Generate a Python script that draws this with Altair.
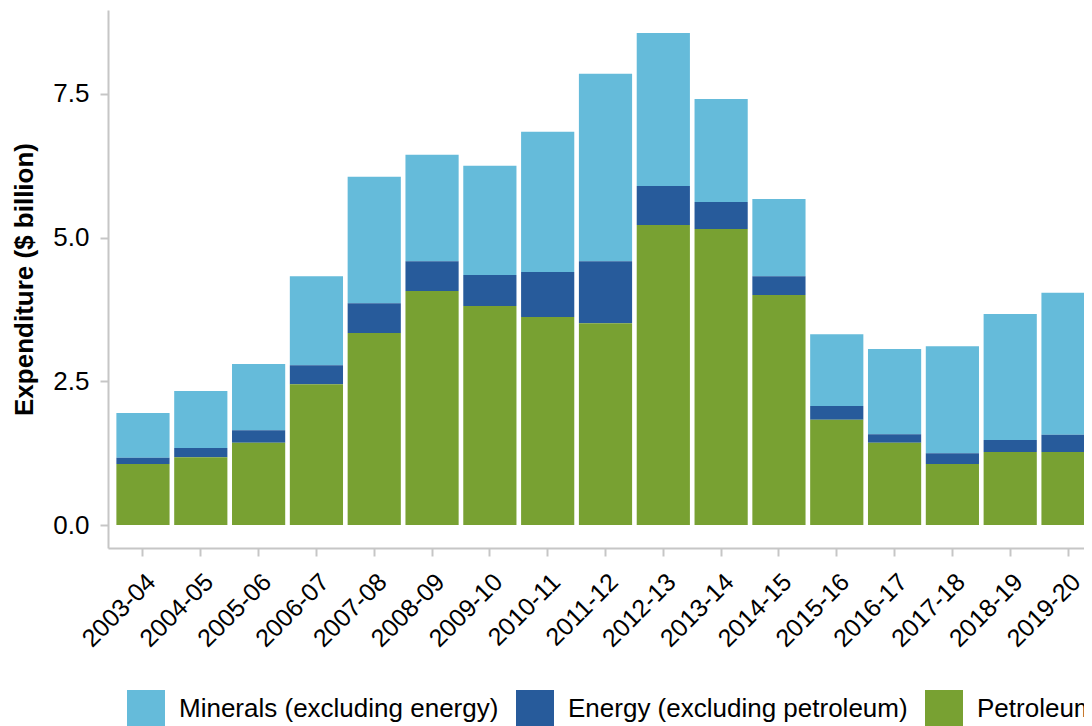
import altair as alt
import pandas as pd

years = ["2003-04", "2004-05", "2005-06", "2006-07", "2007-08", "2008-09",
         "2009-10", "2010-11", "2011-12", "2012-13", "2013-14", "2014-15",
         "2015-16", "2016-17", "2017-18", "2018-19", "2019-20"]
petroleum = [1.06, 1.18, 1.43, 2.45, 3.34, 4.07, 3.81, 3.62, 3.51, 5.22, 5.15,
             4.00, 1.83, 1.43, 1.06, 1.27, 1.27]
energy = [0.11, 0.16, 0.22, 0.33, 0.52, 0.52, 0.54, 0.78, 1.08, 0.68, 0.47,
          0.33, 0.24, 0.15, 0.19, 0.21, 0.30]
minerals = [0.78, 0.99, 1.15, 1.55, 2.20, 1.85, 1.90, 2.44, 3.26, 2.66, 1.79,
            1.34, 1.25, 1.48, 1.86, 2.19, 2.47]

series = ["Minerals (excluding energy)", "Energy (excluding petroleum)", "Petroleum"]
colors = ["#65bbda", "#275b9b", "#78a132"]
stack_order = [2, 1, 0]

rows = []
for name, vals, o in zip(series, [minerals, energy, petroleum], stack_order):
    for yr, v in zip(years, vals):
        rows.append({"year": yr, "type": name, "value": v, "ord": o})
df = pd.DataFrame(rows)

FONT = "Liberation Sans"

chart = alt.Chart(df).mark_bar().encode(
    x=alt.X("year:N", sort=years,
            scale=alt.Scale(paddingInner=0.08, paddingOuter=0.145, range=[0, 995]),
            axis=alt.Axis(title=None, labelAngle=-45, labelFontSize=25,
                          labelFont=FONT, labelColor="#000000",
                          domainColor="#c6c6c6", domainWidth=2,
                          tickColor="#c6c6c6", tickWidth=2, tickSize=8,
                          labelPadding=13)),
    y=alt.Y("value:Q", stack="zero",
            scale=alt.Scale(padding=23, nice=False, zero=True),
            axis=alt.Axis(title="Expenditure ($ billion)", values=[0, 2.5, 5, 7.5],
                          format=".1f", grid=False, labelFontSize=26,
                          labelFont=FONT, labelColor="#000000",
                          titleFont=FONT, titleFontSize=26, titleFontWeight="bold",
                          titleColor="#000000", titlePadding=15,
                          domainColor="#c6c6c6", domainWidth=2,
                          tickColor="#c6c6c6", tickWidth=2, tickSize=8,
                          labelPadding=11)),
    color=alt.Color("type:N", sort=series,
                    scale=alt.Scale(domain=series, range=colors),
                    legend=alt.Legend(title=None, orient="none", direction="horizontal",
                                      legendX=19, legendY=680,
                                      symbolType="square", symbolSize=1444,
                                      symbolStrokeWidth=0, labelFontSize=26,
                                      labelFont=FONT, labelColor="#000000",
                                      labelOffset=14, columnPadding=17,
                                      labelLimit=0)),
    order=alt.Order("ord:Q"),
).properties(
    width=976, height=538,
    autosize=alt.AutoSizeParams(type="none"),
    padding={"left": 100, "top": 2, "right": 0, "bottom": 220},
).configure_view(stroke=None)

chart.save("out.html", embed_options={"renderer": "svg", "actions": False})
